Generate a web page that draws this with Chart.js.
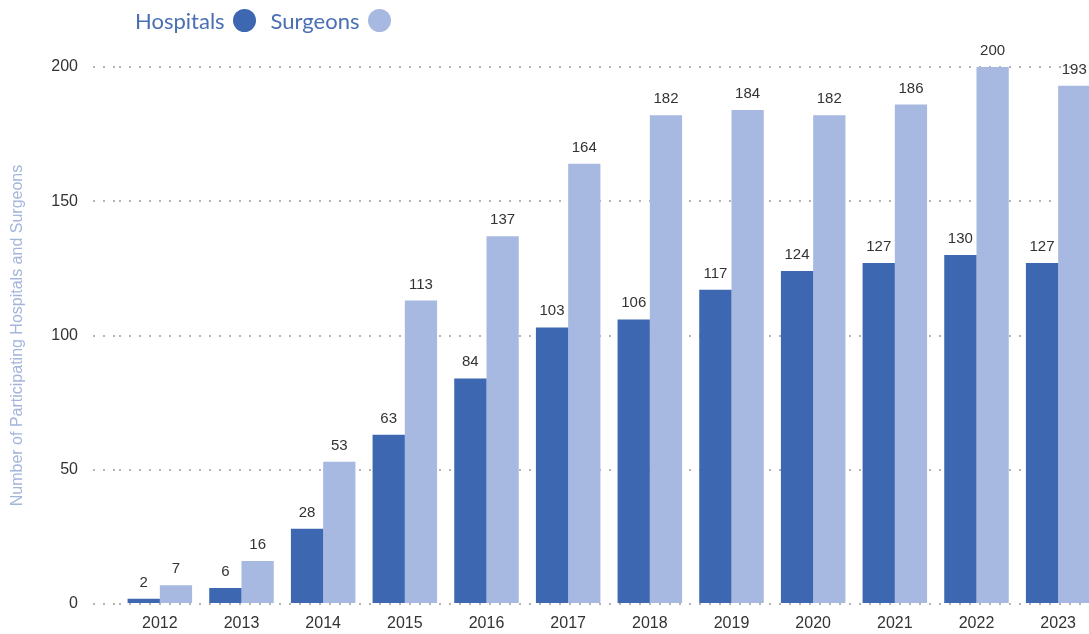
<!DOCTYPE html>
<html>
<head>
<meta charset="utf-8">
<script src="https://cdn.jsdelivr.net/npm/chart.js@4"></script>
<style>
  html, body { margin: 0; padding: 0; overflow: hidden; background: #fff; }
  #wrap { position: relative; width: 1100px; height: 634px; }
  #legend { position: absolute; left: 135px; top: 7px; display: flex; align-items: center;
    font-family: Lato, "Open Sans", sans-serif; font-size: 22px; color: #4a6fb2; }
  #legend .item { display: flex; align-items: center; margin-right: 15px; }
  #legend .dot { width: 23px; height: 23px; border-radius: 50%; margin-left: 8px; }
</style>
</head>
<body>
<div id="wrap">
  <canvas id="bars" width="1100" height="634"></canvas>
  <div id="legend"></div>
</div>
<script>
const years = ["2012", "2013", "2014", "2015", "2016", "2017", "2018", "2019", "2020", "2021", "2022", "2023"];
const hospitals = [2, 6, 28, 63, 84, 103, 106, 117, 124, 127, 130, 127];
const surgeons = [7, 16, 53, 113, 137, 164, 182, 184, 182, 186, 200, 193];
const yTicks = [0, 50, 100, 150, 200];

const hospitalBlue = "#3d67b1";
const surgeonBlue = "#a7b9e0";

// numbers printed above each bar
const barValues = {
	id: "barValues",
	afterDatasetsDraw(chart) {
		const ctx = chart.ctx;
		ctx.save();
		ctx.font = "15px 'Liberation Sans', Arial, sans-serif";
		ctx.fillStyle = "#333";
		ctx.textAlign = "center";
		ctx.textBaseline = "alphabetic";
		chart.data.datasets.forEach((ds, i) => {
			chart.getDatasetMeta(i).data.forEach((bar, j) => {
				ctx.fillText(String(ds.data[j]), bar.x, bar.y - 12);
			});
		});
		ctx.restore();
	},
};

const chart = new Chart(document.getElementById("bars").getContext("2d"), {
	type: "bar",
	data: {
		labels: years,
		datasets: [
			{ label: "Hospitals", data: hospitals, backgroundColor: hospitalBlue },
			{ label: "Surgeons", data: surgeons, backgroundColor: surgeonBlue },
		],
	},
	options: {
		responsive: false,
		animation: false,
		layout: { padding: { top: 67, right: 1, bottom: 0, left: 0 } },
		datasets: { bar: { categoryPercentage: 0.79, barPercentage: 1.0 } },
		plugins: {
			legend: { display: false },
			tooltip: { enabled: false },
		},
		scales: {
			x: {
				grid: { display: false, drawTicks: false },
				border: { display: false },
				ticks: {
					color: "#333",
					padding: 10,
					font: { family: "'Liberation Sans', Arial, sans-serif", size: 16 },
				},
				afterFit(scale) { scale.height = 30; },
			},
			y: {
				min: 0,
				max: 200,
				afterBuildTicks(scale) { scale.ticks = yTicks.map(v => ({ value: v })); },
				grid: {
					color: "rgba(130,130,130,0.6)",
					lineWidth: 2,
					tickLength: 26,
					tickBorderDash: [2, 8],
				},
				border: { display: false, dash: [2, 8] },
				ticks: {
					color: "#333",
					padding: 15,
					font: { family: "'Liberation Sans', Arial, sans-serif", size: 16 },
				},
				title: {
					display: true,
					text: "Number of Participating Hospitals and Surgeons",
					color: "#a3b5db",
					padding: { top: 8, bottom: 0 },
					font: { family: "'Liberation Sans', Arial, sans-serif", size: 16 },
				},
				afterFit(scale) { scale.width = 119; },
			},
		},
	},
	plugins: [barValues],
});

// legend: label first, coloured dot after it
const legend = document.getElementById("legend");
chart.data.datasets.forEach(ds => {
	const item = document.createElement("div");
	item.className = "item";
	const text = document.createElement("span");
	text.textContent = ds.label;
	const dot = document.createElement("span");
	dot.className = "dot";
	dot.style.background = ds.backgroundColor;
	item.appendChild(text);
	item.appendChild(dot);
	legend.appendChild(item);
});
</script>
</body>
</html>
